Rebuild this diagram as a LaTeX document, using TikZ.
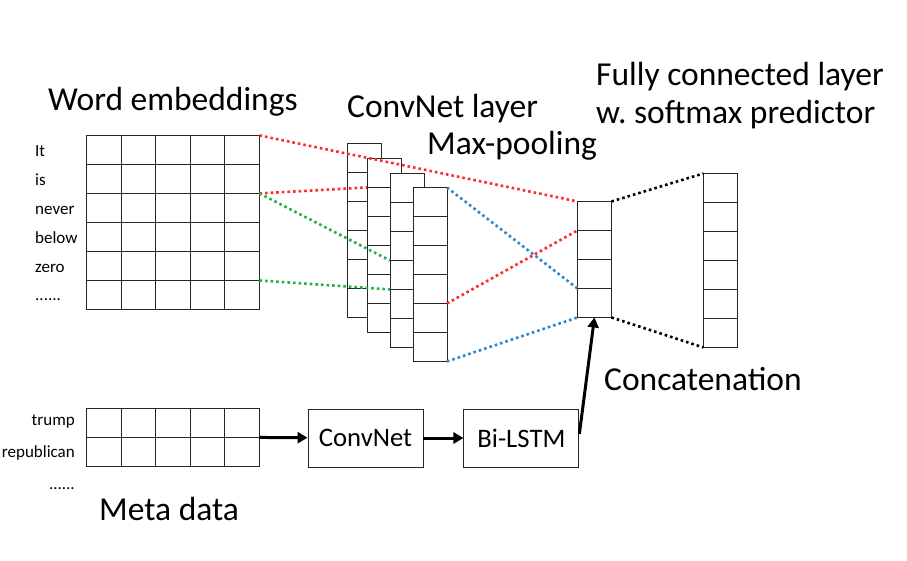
\documentclass[tikz,border=0pt]{standalone}
\usepackage{fontspec}
\setmainfont{Carlito}
\usetikzlibrary{matrix,positioning,arrows.meta}
\definecolor{dotred}{HTML}{FF2A2A}
\definecolor{dotgreen}{HTML}{22B04B}
\definecolor{dotblue}{HTML}{2C86C9}

\begin{document}
\begin{tikzpicture}[x=1pt,y=-1pt,
	cell/.style={draw=black!85,line width=0.9pt,minimum width=34.6pt,minimum height=29pt,inner sep=0pt,outer sep=0pt},
	slim/.style={cell,minimum width=34pt,fill=white},
	grid/.style={matrix of nodes,nodes in empty cells,inner sep=0pt,outer sep=0pt,anchor=north west,row sep=-0.9pt,column sep=-0.9pt},
	title/.style={font=\fontsize{33.5}{40}\selectfont,inner sep=0pt,anchor=base west},
	word/.style={font=\fontsize{17}{20}\selectfont,inner sep=0pt},
	box/.style={draw=black!85,line width=0.9pt,minimum width=115pt,minimum height=58pt,font=\fontsize{26.7}{30}\selectfont},
	link/.style={line width=2.6pt,dash pattern=on 2.6pt off 3pt},
	flow/.style={line width=3pt,-{Triangle[length=10pt,width=11pt]}}]
	\useasboundingbox (0,0) rectangle (907,560);
	\node[title] (tword) at (48,110) {Word embeddings};
	\node[title] (tconv) at (347,117) {ConvNet layer};
	\node[title] (tpool) at (427,154) {Max-pooling};
	\node[title] (tfc1) at (596,85) {Fully connected layer};
	\node[title] (tfc2) at (596,123) {w.\ softmax predictor};
	\node[title] (tcat) at (604,390) {Concatenation};
	\node[title] (tmeta) at (99,520) {Meta data};
	\matrix (we) [grid,nodes={cell}] at (86,135) {
		&&&&\\ &&&&\\ &&&&\\ &&&&\\ &&&&\\ &&&&\\
	};
	\foreach \w [count=\r] in {It,is,never,below,zero}
		\node[word,anchor=base west] (w\r) at (35,{156+29*(\r-1)}) {\w};
	\node[word,anchor=base west] (w6) at (35,300) {......};
	\foreach \i/\x/\y in {1/347/143,2/366.5/158,3/389.5/173,4/412.5/187}
		\matrix (conv\i) [grid,nodes={slim}] at (\x,\y) {\\ \\ \\ \\ \\ \\};
	\matrix (pool) [grid,nodes={slim}] at (577,201) {\\ \\ \\ \\};
	\matrix (fc) [grid,nodes={slim}] at (703,173) {\\ \\ \\ \\ \\ \\};
	\matrix (meta) [grid,nodes={cell}] at (86,408) {
		&&&&\\ &&&&\\
	};
	\node[word,anchor=base east] (m1) at (75,425) {trump};
	\node[word,anchor=base east] (m2) at (75,457) {republican};
	\node[word,anchor=base east] (m3) at (75,489) {......};
	\node[box] (convnet) at (365.5,438) {ConvNet};
	\node[box,right=40pt of convnet] (bilstm) {Bi-LSTM};
	\draw[link,dotred] (we-1-5.north east) -- (pool-1-1.north west);
	\draw[link,dotred] (we-3-5.north east) -- (conv2-2-1.north west);
	\draw[link,dotgreen] (we-3-5.north east) -- (conv3-4-1.north west);
	\draw[link,dotgreen] (we-5-5.south east) -- (conv3-5-1.north west);
	\draw[link,dotblue] (conv4-1-1.north east) -- (pool-4-1.north west);
	\draw[link,dotred] (conv4-5-1.north east) -- (pool-2-1.north west);
	\draw[link,dotblue] (conv4-6-1.south east) -- (pool-4-1.south west);
	\draw[link] (pool-1-1.north east) -- (fc-1-1.north west);
	\draw[link] (pool-4-1.south east) -- (fc-6-1.south west);
	\draw[flow] (meta-1-5.south east) -- (convnet);
	\draw[flow] (convnet) -- (bilstm);
	\draw[flow] ([yshift=4pt]bilstm.east) -- (pool-4-1.south);
\end{tikzpicture}
\end{document}
